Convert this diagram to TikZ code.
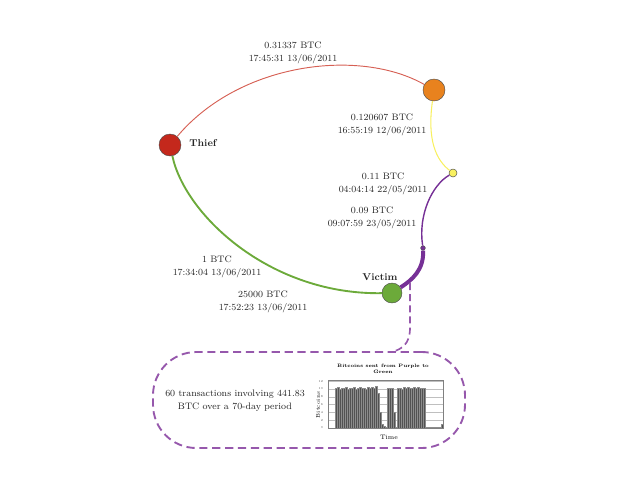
\documentclass[tikz,border=0pt]{standalone}
\usepackage{xcolor}

\definecolor{thiefred}{RGB}{196,40,28}
\definecolor{arcred}{RGB}{214,96,84}
\definecolor{hoporange}{RGB}{232,130,30}
\definecolor{hopyellow}{RGB}{248,240,96}
\definecolor{linkpurple}{RGB}{118,48,150}
\definecolor{victimgreen}{RGB}{108,170,58}
\definecolor{boxpurple}{RGB}{150,88,172}

\begin{document}
\begin{tikzpicture}[
        x=0.03cm, y=-0.03cm,
        font=\fontsize{8}{11}\selectfont,
        wallet/.style={circle, draw=black!70, thin, inner sep=0pt},
        tx_label/.style={align=center, text=black!85},
        name_label/.style={font=\fontsize{8.5}{10}\selectfont\bfseries, text=black!85},
        dash_line/.style={boxpurple, line width=1.4pt, dash pattern=on 6pt off 3.5pt},
        bar/.style={fill=black!68, draw=black!45, line width=0.15pt},
        grid_line/.style={black!25, line width=0.2pt},
        tiny_text/.style={font=\fontsize{2.6}{3}\selectfont, text=black!70}
    ]
    \useasboundingbox (0,0) rectangle (638,493);

    % --- 1. Wallets ---
    \node[wallet, fill=thiefred, minimum size=0.66cm] (thief) at (170,145) {};
    \node[wallet, fill=hoporange, minimum size=0.66cm] (orange) at (434,90) {};
    \node[wallet, fill=hopyellow, minimum size=0.24cm] (yellow) at (453,173) {};
    \node[wallet, fill=linkpurple, minimum size=0.14cm] (mid) at (423,248) {};
    \node[wallet, fill=victimgreen, minimum size=0.6cm] (victim) at (392,293) {};

    \node[name_label] (thieflbl) at (203,143) {Thief};
    \node[name_label] (victimlbl) at (380,277) {Victim};

    % --- 2. Transactions ---
    \draw[arcred, line width=0.8pt] (thief) .. controls (240,62) and (360,48) .. (orange);
    \draw[hopyellow, line width=0.9pt] (orange) .. controls (427,140) and (436,160) .. (yellow);
    \draw[linkpurple, line width=1.2pt] (yellow) .. controls (432,185) and (418,215) .. (mid);
    \draw[linkpurple, line width=3.4pt] (mid) .. controls (424,270) and (412,280) .. (victim);
    \draw[victimgreen, line width=1.6pt] (thief) .. controls (185,215) and (270,295) .. (victim);

    % amounts and times
    \node[tx_label] (lbl1) at (293,53) {0.31337 BTC\\17:45:31 13/06/2011};
    \node[tx_label] (lbl2) at (382,125) {0.120607 BTC\\16:55:19 12/06/2011};
    \node[tx_label] (lbl3) at (383,184) {0.11 BTC\\04:04:14 22/05/2011};
    \node[tx_label] (lbl4) at (372,218) {0.09 BTC\\09:07:59 23/05/2011};
    \node[tx_label] (lbl5) at (217,267) {1 BTC\\17:34:04 13/06/2011};
    \node[tx_label] (lbl6) at (263,302) {25000 BTC\\17:52:23 13/06/2011};

    % --- 3. Summary box ---
    \node[draw=boxpurple, line width=1.6pt, dash pattern=on 7pt off 4pt,
          rounded corners=1.3cm, minimum width=9.36cm, minimum height=2.88cm] (summary) at (309,400) {};
    \node[tx_label, font=\fontsize{8}{11}\selectfont] (summarytxt) at (235,401)
        {60 transactions involving 441.83\\BTC over a 70-day period};

    \coordinate (tap) at (410,283);
    \coordinate (join) at (392,352);
    \draw[dash_line] (tap) -- (410,328) .. controls (410,344) and (402,349) .. (join);

    % --- 4. Chart ---
    \node[font=\fontsize{4.1}{5}\selectfont\bfseries, align=center] (charttitle) at (383,369)
        {Bitcoins sent from Purple to\\Green};
    \foreach \v in {0,2,...,12} {
        \draw[grid_line] (328,428-\v*3.9) -- (443,428-\v*3.9);
        \node[tiny_text, anchor=east] at (327,428-\v*3.9) {\v};
    }
    \foreach \h [count=\i from 0] in {10.2,10.4,10.1,10.3,10.2,10.5,10.1,10.3,10.2,10.6,10.1,
            10.2,10.4,10.2,10.3,10.1,10.4,10.2,10.5,10.3,10.8,
            9,4,1,0.5,0.3,
            10.2,10.3,10.2,4,0.2,
            10.2,10.3,10.1,10.4,10.2,10.5,10.2,10.3,10.6,10.2,10.4,10.2,10.3,10.2,
            0.3,0.3,0.3,0.3,0.3,0.3,0.3,0.3,1}
        \fill[bar] (335+2*\i,428) rectangle ++(1.75,-\h*3.9);
    \draw[black!50, line width=0.3pt] (328,380) rectangle (443,428);
    \node[font=\fontsize{4.6}{5}\selectfont, rotate=90] (ylbl) at (318,405) {Bitcoins};
    \node[font=\fontsize{5.5}{6}\selectfont] (xlbl) at (389,437) {Time};

\end{tikzpicture}
\end{document}
